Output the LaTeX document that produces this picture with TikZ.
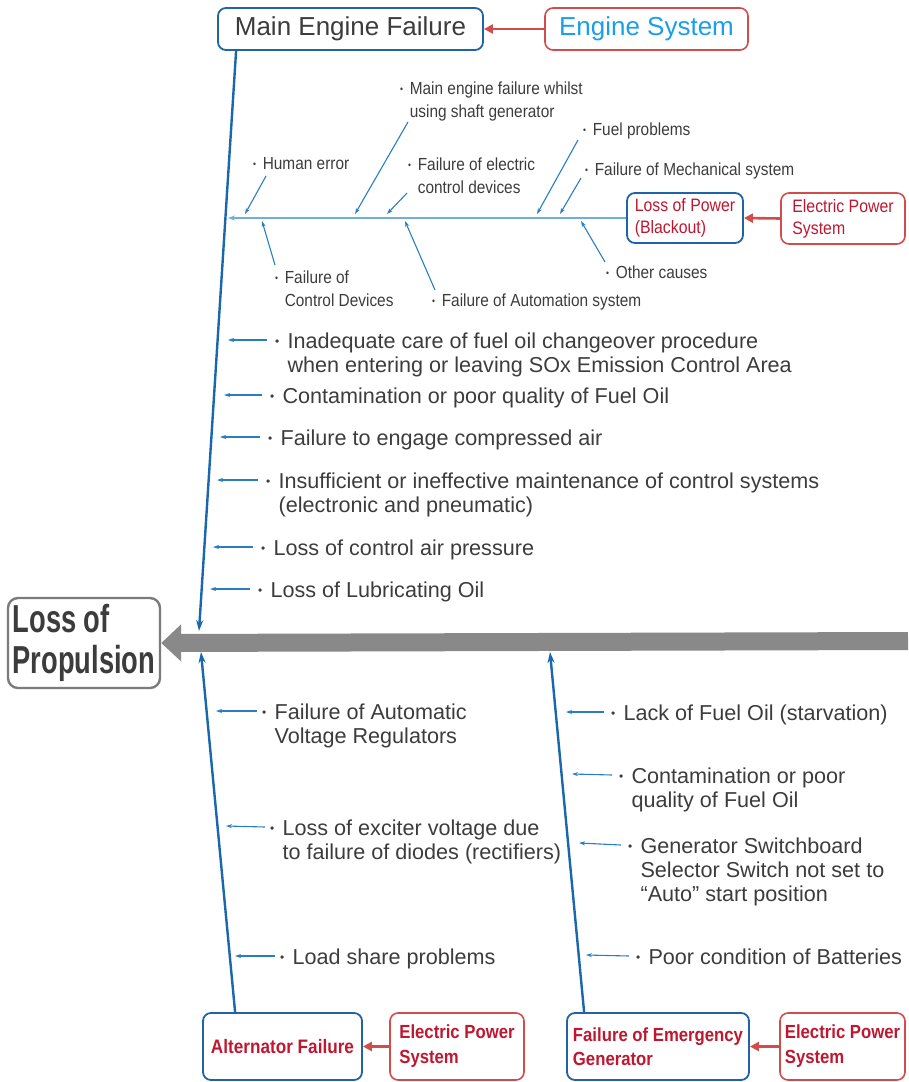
\documentclass[tikz,border=0pt]{standalone}
\usepackage{fontspec}
\setmainfont{Liberation Sans}
\newfontfamily\condfont[FakeStretch=0.88]{Liberation Sans}
\newfontfamily\narrowfont[FakeStretch=0.7]{Liberation Sans}
\usepackage{tikz}
\usetikzlibrary{arrows.meta}

\definecolor{boxblue}{HTML}{1F64A6}
\definecolor{spineblue}{HTML}{1A67AD}
\definecolor{twigblue}{HTML}{2B7DC2}
\definecolor{branchblue}{HTML}{6FAEDD}
\definecolor{sysred}{HTML}{D24C4C}
\definecolor{txtred}{HTML}{BE1730}
\definecolor{sysblue}{HTML}{1A9FE6}
\definecolor{txtgray}{HTML}{3C3C3C}
\definecolor{bonegray}{HTML}{898989}

\newcommand{\bul}{\raisebox{.1em}{\scalebox{.55}{\textbullet}}\hspace{.38em}}

\begin{document}
\begin{tikzpicture}[x=1pt, y=-1pt,
  effect/.style={draw=boxblue, line width=1.8pt, rounded corners=8pt, inner sep=0pt, align=left},
  system/.style={draw=sysred, line width=1.6pt, rounded corners=8pt, inner sep=0pt, align=left},
  cause/.style={anchor=base west, inner sep=0pt, align=left, text=txtgray, font=\fontsize{21.6}{24}\selectfont},
  minor/.style={anchor=base west, inner sep=0pt, align=left, text=txtgray, font=\condfont\fontsize{17.5}{23}\selectfont},
  spine/.style={draw=spineblue, line width=2.4pt, -{Stealth[length=11pt,width=7pt]}},
  branch/.style={draw=branchblue, line width=1.6pt, -{Stealth[length=7pt,width=5pt]}},
  twig/.style={draw=twigblue, line width=1.1pt, -{Stealth[length=6pt,width=4pt]}},
  feed/.style={draw=sysred, line width=2.6pt, -{Triangle[length=9pt,width=9pt]}},
  bone/.style={draw=bonegray, line width=18pt, -{Triangle[length=20pt,width=36pt]}}]

  \useasboundingbox (0,0) rectangle (908,1082);

  % Head
  \node[draw=bonegray!90!black, line width=2.4pt, rounded corners=10pt, inner sep=0pt,
        minimum width=152pt, minimum height=90pt, align=left, text=txtgray,
        font=\narrowfont\bfseries\fontsize{39}{41}\selectfont] (prop) at (84,643) {Loss of\\Propulsion};

  % Backbone
  \coordinate (tail) at (908,641);
  \draw[bone] (tail) -- (prop.east);

  % Top: engine system
  \node[effect, minimum width=265pt, minimum height=42pt, text=txtgray,
        font=\fontsize{26}{28}\selectfont] (mef) at (350.5,29) {Main Engine Failure};
  \node[system, minimum width=203pt, minimum height=42pt, text=sysblue,
        font=\fontsize{26}{28}\selectfont] (eng) at (646.5,29) {Engine System};
  \draw[feed] (eng.west) -- (mef.east);

  \coordinate (mhead) at (199,631);
  \draw[spine] ([xshift=19pt]mef.south west) -- (mhead);

  % Top: loss of power branch
  \node[effect, minimum width=116pt, minimum height=50pt, text=txtred,
        font=\condfont\fontsize{18}{22}\selectfont] (lop) at (685,218) {Loss of Power\\(Blackout)};
  \node[system, minimum width=124pt, minimum height=51pt, text=txtred,
        font=\condfont\fontsize{18}{22}\selectfont] (epsa) at (843,218.5) {Electric Power\\System};
  \draw[feed] (epsa.west) -- (lop.east);

  \coordinate (bhead) at (228,218);
  \draw[branch] (lop.west) -- (bhead);

  % (multi-line nodes sit on their last baseline)
  \node[minor] (hum) at (253,169) {\bul Human error};
  \node[minor] (shaft) at (400,117) {\bul Main engine failure whilst\\\hphantom{\bul}using shaft generator};
  \node[minor] (elec) at (408,193) {\bul Failure of electric\\\hphantom{\bul}control devices};
  \node[minor] (fuel) at (583,135) {\bul Fuel problems};
  \node[minor] (mech) at (585,175) {\bul Failure of Mechanical system};
  \node[minor] (ctrl) at (275,306) {\bul Failure of\\\hphantom{\bul}Control Devices};
  \node[minor] (auto) at (432,306) {\bul Failure of Automation system};
  \node[minor] (other) at (606,278) {\bul Other causes};

  \coordinate (b1) at (245,214);
  \coordinate (b2) at (355,214);
  \coordinate (b3) at (387,214);
  \coordinate (b4) at (537,214);
  \coordinate (b5) at (560,214);
  \coordinate (b6) at (262,221);
  \coordinate (b7) at (405,221);
  \coordinate (b8) at (581,221);
  \draw[twig] ([xshift=13pt,yshift=-7pt]hum.base west) -- (b1);
  \draw[twig] ([xshift=8pt,yshift=-5pt]shaft.base west) -- (b2);
  \draw[twig] ([xshift=-1pt,yshift=0pt]elec.base west) -- (b3);
  \draw[twig] ([xshift=-5pt,yshift=-5pt]fuel.base west) -- (b4);
  \draw[twig] ([xshift=-4pt,yshift=-3pt]mech.base west) -- (b5);
  \draw[twig] ([xshift=0pt,yshift=41pt]ctrl.base west) -- (b6);
  \draw[twig] ([xshift=3pt,yshift=16pt]auto.base west) -- (b7);
  \draw[twig] ([xshift=-1pt,yshift=16pt]other.base west) -- (b8);

  % Top: direct causes
  \node[cause] (c1) at (275,372) {\bul Inadequate care of fuel oil changeover procedure\\\hphantom{\bul}when entering or leaving SOx Emission Control Area};
  \node[cause] (c2) at (270,403) {\bul Contamination or poor quality of Fuel Oil};
  \node[cause] (c3) at (268,445) {\bul Failure to engage compressed air};
  \node[cause] (c4) at (266,512) {\bul Insufficient or ineffective maintenance of control systems\\\hphantom{\bul}(electronic and pneumatic)};
  \node[cause] (c5) at (261,555) {\bul Loss of control air pressure};
  \node[cause] (c6) at (258,597) {\bul Loss of Lubricating Oil};

  \coordinate (m1) at (228,340);
  \coordinate (m2) at (224,395);
  \coordinate (m3) at (220,437);
  \coordinate (m4) at (217,480);
  \coordinate (m5) at (213,547);
  \coordinate (m6) at (210,589);
  \foreach \c/\m/\dy in {c1/m1/32, c2/m2/8, c3/m3/8, c4/m4/32, c5/m5/8, c6/m6/8}
    \draw[twig] ([xshift=-8pt,yshift=\dy pt]\c.base west) -- (\m);

  % Bottom: alternator
  \node[effect, minimum width=159pt, minimum height=67pt, text=txtred,
        font=\condfont\bfseries\fontsize{19.5}{25}\selectfont] (alt) at (282.5,1046.5) {Alternator Failure};
  \node[system, minimum width=134pt, minimum height=67pt, text=txtred,
        font=\condfont\bfseries\fontsize{19}{25}\selectfont] (epsb) at (457,1046.5) {Electric Power\\System};
  \draw[feed] (epsb.west) -- (alt.east);

  \coordinate (ahead) at (201,652);
  \draw[spine] ([xshift=33pt]alt.north west) -- (ahead);

  \node[cause] (a1) at (262,743) {\bul Failure of Automatic\\\hphantom{\bul}Voltage Regulators};
  \node[cause] (a2) at (270,859) {\bul Loss of exciter voltage due\\\hphantom{\bul}to failure of diodes (rectifiers)};
  \node[cause] (a3) at (280,964) {\bul Load share problems};

  \coordinate (n1) at (216,711);
  \coordinate (n2) at (226,826);
  \coordinate (n3) at (235,956);
  \foreach \c/\m/\dy in {a1/n1/32, a2/n2/32, a3/n3/8}
    \draw[twig] ([xshift=-5pt,yshift=\dy pt]\c.base west) -- (\m);

  % Bottom: emergency generator
  \node[effect, minimum width=182pt, minimum height=67pt, text=txtred,
        font=\condfont\bfseries\fontsize{19}{24}\selectfont] (feg) at (658,1046.5) {Failure of Emergency\\Generator};
  \node[system, minimum width=125pt, minimum height=67pt, text=txtred,
        font=\condfont\bfseries\fontsize{19}{25}\selectfont] (epsc) at (842.5,1046.5) {Electric Power\\System};
  \draw[feed] (epsc.west) -- (feg.east);

  \coordinate (ghead) at (550,652);
  \draw[spine] ([xshift=18pt]feg.north west) -- (ghead);

  \node[cause] (g1) at (611,720) {\bul Lack of Fuel Oil (starvation)};
  \node[cause] (g2) at (619,807) {\bul Contamination or poor\\\hphantom{\bul}quality of Fuel Oil};
  \node[cause] (g3) at (628,901) {\bul Generator Switchboard\\\hphantom{\bul}Selector Switch not set to\\\hphantom{\bul}“Auto” start position};
  \node[cause] (g4) at (636,964) {\bul Poor condition of Batteries};

  \coordinate (e1) at (566,712);
  \coordinate (e2) at (572,774);
  \coordinate (e3) at (579,843);
  \coordinate (e4) at (586,955);
  \foreach \c/\m/\dy in {g1/e1/8, g2/e2/32, g3/e3/56, g4/e4/8}
    \draw[twig] ([xshift=-7pt,yshift=\dy pt]\c.base west) -- (\m);

\end{tikzpicture}
\end{document}
